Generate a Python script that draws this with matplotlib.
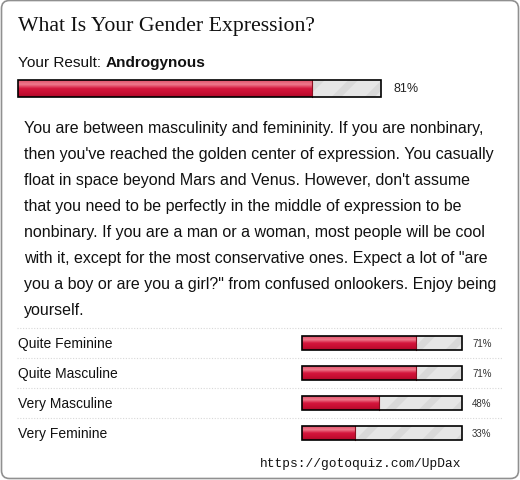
import numpy as np
import matplotlib
matplotlib.use("Agg")
import matplotlib.pyplot as plt
from matplotlib.patches import FancyBboxPatch, Rectangle

# Data
quiz_title = "What Is Your Gender Expression?"
result_name = "Androgynous"
result_pct = 81
description = [
    "You are between masculinity and femininity. If you are nonbinary,",
    "then you've reached the golden center of expression. You casually",
    "float in space beyond Mars and Venus. However, don't assume",
    "that you need to be perfectly in the middle of expression to be",
    "nonbinary. If you are a man or a woman, most people will be cool",
    "with it, except for the most conservative ones. Expect a lot of \"are",
    "you a boy or are you a girl?\" from confused onlookers. Enjoy being",
    "yourself.",
]
other_results = ["Quite Feminine", "Quite Masculine", "Very Masculine", "Very Feminine"]
other_pcts = [71, 71, 48, 33]
url = "https://gotoquiz.com/UpDax"

W, H = 520, 481
fig = plt.figure(figsize=(W / 100, H / 100), dpi=100)
ax = fig.add_axes([0, 0, 1, 1])
ax.set_xlim(0, W)
ax.set_ylim(H, 0)
ax.axis("off")

# outer box
ax.add_patch(FancyBboxPatch((1.5, 1.5), W - 3, H - 3, boxstyle="round,pad=0,rounding_size=8",
                            facecolor="white", edgecolor="#909090", lw=1.2))

grad = np.linspace(0, 1, 50).reshape(-1, 1)
red_cmap = matplotlib.colors.LinearSegmentedColormap.from_list(
    "bar", ["#e0506a", "#ee7a8c", "#d4163c", "#c80f33", "#b00a2a"])


def draw_bar(x0, y0, w, h, pct):
    plt.rcParams["hatch.linewidth"] = 5
    ax.add_patch(Rectangle((x0, y0), w, h, facecolor="#e6e6e6", edgecolor="#d9d9d9",
                           hatch="/", lw=0))
    fw = w * pct / 100
    im = ax.imshow(grad, cmap=red_cmap, aspect="auto", extent=(x0, x0 + fw, y0 + h, y0),
                   interpolation="bilinear", zorder=2)
    im.set_clip_path(Rectangle((x0, y0), fw, h, transform=ax.transData))
    ax.plot([x0 + fw, x0 + fw], [y0, y0 + h], color="#8a1020", lw=0.8, zorder=3)
    ax.add_patch(Rectangle((x0, y0), w, h, facecolor="none", edgecolor="black", lw=1.2, zorder=4))


ax.text(18, 26, quiz_title, family="Liberation Serif", fontsize=15.7, va="center", color="#111111")
t = ax.text(18, 63, "Your Result: ", family="Liberation Sans", fontsize=11.1, va="center", color="#111111")
ax.annotate(result_name, xycoords=t, xy=(1, 0), va="bottom", family="Liberation Sans",
            fontsize=11.1, fontweight="bold", color="#111111")

draw_bar(18, 81, 363, 17, result_pct)
ax.text(393, 89.5, f"{result_pct}%", family="Liberation Sans", fontsize=9, va="center", color="#222222")

for i, line in enumerate(description):
    ax.text(24, 129 + i * 25.9, line, family="Liberation Sans", fontsize=11.5, va="center", color="#111111")

for i, (name, pct) in enumerate(zip(other_results, other_pcts)):
    yc = 344 + i * 30
    ax.plot([17, 503], [yc - 15, yc - 15], color="#d8d8d8", lw=0.8, ls=(0, (1, 1.5)))
    ax.text(18, yc, name, family="Liberation Sans", fontsize=10, va="center", color="#111111")
    draw_bar(302, yc - 7, 160, 14, pct)
    ax.text(472, yc, f"{pct}%", family="Liberation Sans", fontsize=7, va="center", color="#333333")

ax.text(461, 464, url, family="Liberation Mono", fontsize=9.3, va="center", ha="right", color="#111111")

fig.savefig("out.png", dpi=100)
